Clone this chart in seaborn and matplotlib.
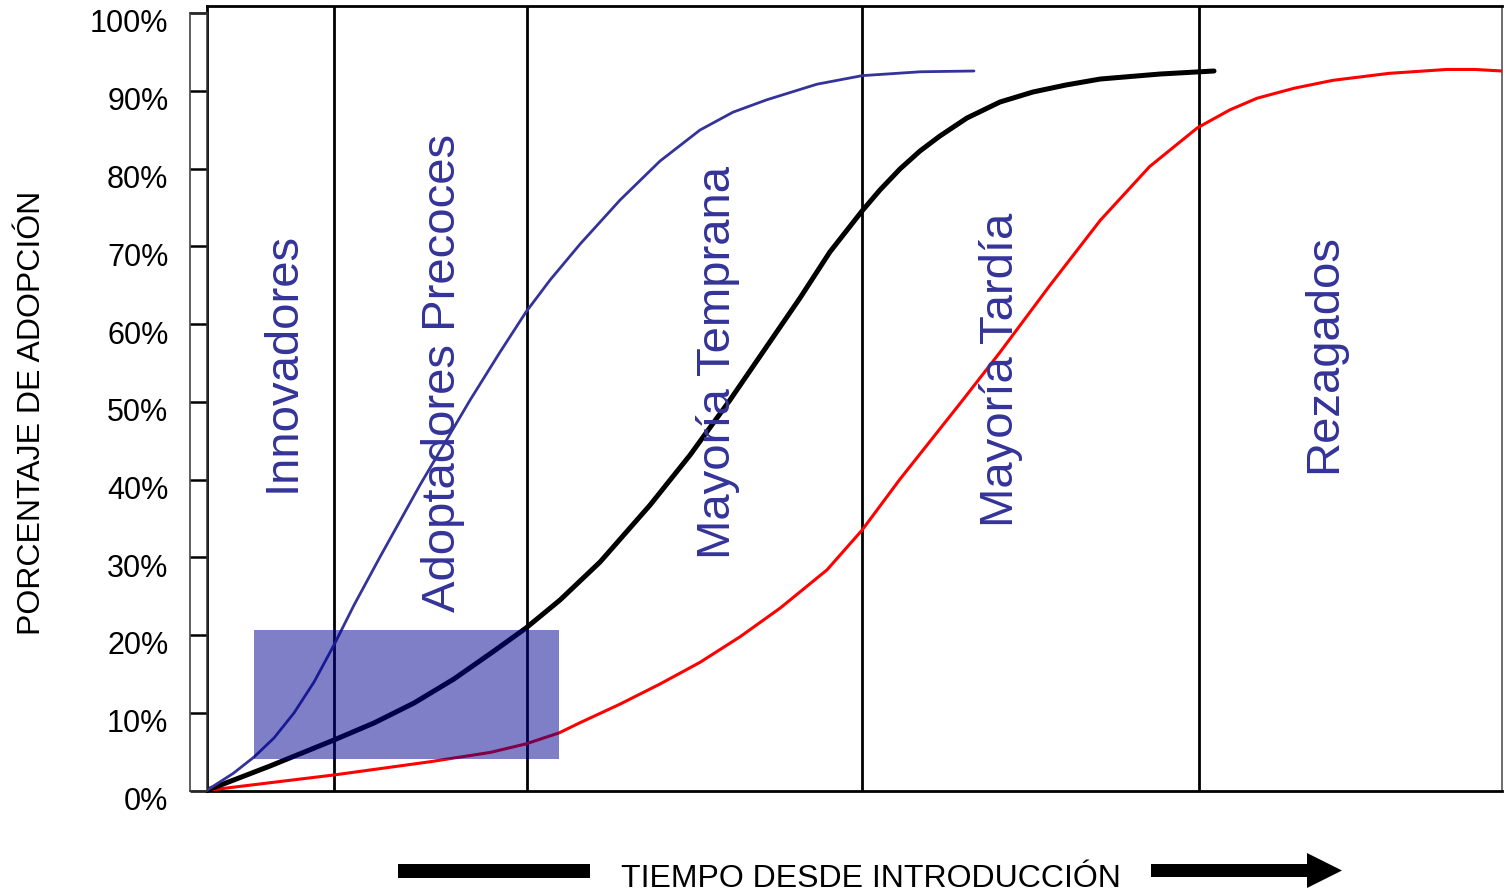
import matplotlib
matplotlib.use("Agg")
import matplotlib.pyplot as plt
from matplotlib.patches import Rectangle, FancyArrow
from matplotlib.transforms import ScaledTranslation
import seaborn as sns
import pandas as pd

# Curves (x = time 0-100, y = % adoption)
blue_x = [0, 2.05, 3.67, 5.21, 6.75, 8.30, 9.84, 11.39, 13.39, 16.48, 20.35, 22.66, 24.66, 26.52,
          28.84, 31.92, 35.0, 38.09, 40.64, 43.26, 47.12, 50.6, 55.1, 59.24]
blue_y = [0, 2.19, 4.31, 6.76, 9.97, 13.96, 18.73, 23.87, 30.05, 39.32, 50.26, 56.43, 61.58, 65.70,
          70.33, 75.99, 81.0, 85.0, 87.3, 88.9, 90.9, 92.0, 92.5, 92.6]

black_x = [0, 4.90, 9.84, 12.93, 16.02, 19.10, 22.19, 24.66, 27.29, 30.38, 34.24, 37.33, 40.41,
           43.11, 45.81, 48.12, 50.6, 51.98, 53.53, 55.07, 56.61, 58.70, 61.25, 63.8, 66.35, 69.0,
           73.6, 77.77]
black_y = [0, 3.15, 6.50, 8.69, 11.26, 14.35, 17.95, 20.91, 24.52, 29.41, 36.74, 43.18, 50.26,
           56.82, 63.38, 69.31, 74.58, 77.28, 79.99, 82.3, 84.23, 86.55, 88.61, 89.9, 90.8, 91.57,
           92.21, 92.6]

red_x = [0, 4.9, 9.84, 17.25, 21.9, 24.66, 26.1, 27.2, 28.8, 31.9, 35.0, 38.1, 41.2, 44.3, 47.9,
         50.6, 53.5, 58.4, 61.25, 65.1, 69.0, 72.8, 76.5, 79.0, 81.1, 84.0, 86.95, 91.3, 95.75,
         97.9, 100]
red_y = [0, 1.0, 2.0, 3.7, 4.9, 6.0, 6.8, 7.4, 8.7, 11.1, 13.7, 16.5, 19.8, 23.5, 28.4,
         33.5, 40.0, 50.3, 56.4, 65.0, 73.4, 80.3, 85.3, 87.6, 89.1, 90.4, 91.4, 92.3, 92.8,
         92.8, 92.6]

# Category boundaries and labels
boundaries = [9.86, 24.72, 50.6, 76.6]
cat_labels = ["Innovadores", "Adoptadores Precoces", "Mayoría Temprana", "Mayoría Tardía", "Rezagados"]
cat_x = [6.83, 19.18, 40.41, 62.25, 87.2]
cat_y = [38.4, 22.97, 29.8, 33.9, 40.9]

# Highlight box
box_x = [3.7, 27.2]
box_y = [4.0, 20.6]

y_ticks = [0, 10, 20, 30, 40, 50, 60, 70, 80, 90, 100]
y_ticklabels = [f"{t}%" for t in y_ticks]

sns.set_style("white")
plt.rcParams['font.family'] = ['Liberation Sans', 'DejaVu Sans']

W, H = 1511, 891
fig = plt.figure(figsize=(W / 100, H / 100), dpi=100)

def fx(px):
    return px / W

def fy(py):
    return 1 - py / H

# Main axes
ax = fig.add_axes([fx(206.5), fy(790.5), fx(1502) - fx(206.5), fy(6) - fy(790.5)])
ax.set_xlim(0, 100)
ax.set_ylim(0, (790.5 - 6) / 7.77)
ax.set_xticks([])
ax.set_yticks([])
for side in ["left", "top", "bottom"]:
    ax.spines[side].set_linewidth(2)
    ax.spines[side].set_color("black")
ax.spines["right"].set_linewidth(1.2)
ax.spines["right"].set_color("#555555")

for b in boundaries:
    ax.axvline(b, color="black", lw=2, zorder=1)

df_blue = pd.DataFrame({"x": blue_x, "y": blue_y})
df_black = pd.DataFrame({"x": black_x, "y": black_y})
df_red = pd.DataFrame({"x": red_x, "y": red_y})
sns.lineplot(data=df_red, x="x", y="y", ax=ax, color="#ff0000", lw=2.2, sort=False, zorder=3)
sns.lineplot(data=df_black, x="x", y="y", ax=ax, color="black", lw=3.6, sort=False, zorder=3)
sns.lineplot(data=df_blue, x="x", y="y", ax=ax, color="#333399", lw=2.0, sort=False, zorder=3)
for line in ax.lines:
    line.set_solid_joinstyle("round")
ax.set_xlabel("")
ax.set_ylabel("")

ax.fill_between(box_x, box_y[0], box_y[1], color="#000091", alpha=0.5, lw=0, zorder=4)

for lab, x, y in zip(cat_labels, cat_x, cat_y):
    ax.text(x, y, lab, rotation=90, rotation_mode="anchor", ha="left", va="baseline",
            fontsize=34, color="#333399", zorder=5)

# Separate y tick strip
tax = fig.add_axes([fx(190), fy(790.5), fx(206.5) - fx(190), fy(13) - fy(790.5)])
tax.set_xlim(0, 1)
tax.set_ylim(0, 100)
tax.set_xticks([])
tax.set_yticks(y_ticks)
tax.set_yticklabels(y_ticklabels)
tax.tick_params(axis="y", left=True, direction="in", length=12, width=1.8, pad=15.5,
                labelsize=22, colors="black")
for sp in tax.spines.values():
    sp.set_linewidth(1.1)
    sp.set_color("#333333")
shift = ScaledTranslation(0, -8 / 100, fig.dpi_scale_trans)
for lbl in tax.get_yticklabels():
    lbl.set_transform(lbl.get_transform() + shift)

# Axis titles
fig.text(fx(40), fy(413), "PORCENTAJE DE ADOPCIÓN", rotation=90, rotation_mode="anchor",
         ha="center", va="baseline", fontsize=23, color="black")
fig.text(fx(871), fy(887), "TIEMPO DESDE INTRODUCCIÓN", ha="center", va="baseline",
         fontsize=23, color="black")

# Time arrow
fig.patches.append(Rectangle((fx(398), fy(878)), fx(590) - fx(398), fy(864) - fy(878),
                             transform=fig.transFigure, color="black", lw=0))
fig.patches.append(FancyArrow(fx(1151), fy(870.5), fx(1342) - fx(1151), 0,
                              width=fy(864) - fy(877), head_width=fy(853) - fy(888),
                              head_length=fx(1342) - fx(1307), length_includes_head=True,
                              transform=fig.transFigure, color="black", lw=0))

fig.savefig("out.png", dpi=100)
